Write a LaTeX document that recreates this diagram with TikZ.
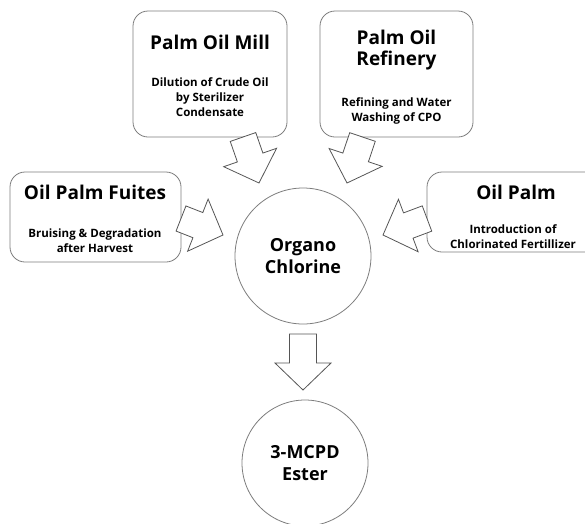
\documentclass[tikz,border=0pt]{standalone}
\usepackage{fontspec}
\setmainfont{Open Sans}
\usetikzlibrary{calc, positioning}
\definecolor{edgegray}{RGB}{125,125,125}
\definecolor{arrowgray}{RGB}{85,85,85}

%% fat outline arrow from #1 to #2
\newcommand{\fatarrow}[2]{%
  \draw[fatarrow] let \p1 = ($(#2)-(#1)$), \n1 = {atan2(\y1,\x1)}, \n2 = {veclen(\x1,\y1)} in
    [shift={(#1)}, rotate=\n1]
    (0pt,-13.5pt) -- (\n2-27pt,-13.5pt) -- (\n2-27pt,-28pt) -- (\n2,0pt)
    -- (\n2-27pt,28pt) -- (\n2-27pt,13.5pt) -- (0pt,13.5pt) -- cycle;}

\begin{document}
\begin{tikzpicture}[x=1pt, y=-1pt,
                line join=miter,
                box/.style={shape=rectangle, draw=edgegray, fill=white, rounded corners=15pt, line width=0.8pt, inner sep=0pt},
                bigcircle/.style={shape=circle, draw=edgegray, fill=white, line width=0.8pt, inner sep=0pt, align=center, font=\fontsize{18}{22}\selectfont\bfseries},
                ttl/.style={align=center, inner sep=0pt, font=\fontsize{19}{21}\selectfont\bfseries},
                sub/.style={align=center, inner sep=0pt, font=\fontsize{11.5}{15}\selectfont\bfseries},
                fatarrow/.style={draw=arrowgray, fill=white, line width=0.8pt}
                ]
                \useasboundingbox (0,0) rectangle (585,523);
                \clip (0,0) rectangle (585,523);

                %% Sources
                \node[box, minimum width=154pt, minimum height=126pt] (mill) at (210,74) {};
                \node[ttl] (millttl) at (210,42) {Palm Oil Mill};
                \node[sub] (millsub) at (210,97.5) {Dilution of Crude Oil\\by Sterilizer\\Condensate};

                \node[box, minimum width=153pt, minimum height=126pt] (refinery) at (396.5,74) {};
                \node[ttl] (refttl) at (396.5,50) {Palm Oil\\Refinery};
                \node[sub] (refsub) at (396.5,110.5) {Refining and Water\\Washing of CPO};

                \node[box, minimum width=171pt, minimum height=90pt] (fuites) at (95.5,217) {};
                \node[ttl] (fuittl) at (95,192) {Oil Palm Fuites};
                \node[sub] (fuisub) at (95,240.5) {Bruising \& Degradation\\after Harvest};

                \node[box, minimum width=175pt, minimum height=80pt] (oilpalm) at (514.5,212) {};
                \node[ttl] (palmttl) at (516,192) {Oil Palm};
                \node[sub] (palmsub) at (513,237) {Introduction of\\Chlorinated Fertillizer};

                %% Products
                \node[bigcircle, minimum size=136pt] (organo) at (303,256) {Organo\\Chlorine};
                \node[bigcircle, minimum size=126pt] (mcpd) at (305,463) {3-MCPD\\Ester};

                %% Arrows
                \coordinate (millout) at (243,137);
                \coordinate (millin) at (259,183);
                \coordinate (refout) at (362.5,137);
                \coordinate (refin) at (347,183);
                \coordinate (fuiout) at (181,218.5);
                \coordinate (fuiin) at (223,235);
                \coordinate (palmout) at (427,218.5);
                \coordinate (palmin) at (383,235);
                \coordinate (orgout) at (303,334);
                \coordinate (mcpdin) at (303,390);

                \fatarrow{millout}{millin}
                \fatarrow{refout}{refin}
                \fatarrow{fuiout}{fuiin}
                \fatarrow{palmout}{palmin}
                \fatarrow{orgout}{mcpdin}
\end{tikzpicture}
\end{document}
